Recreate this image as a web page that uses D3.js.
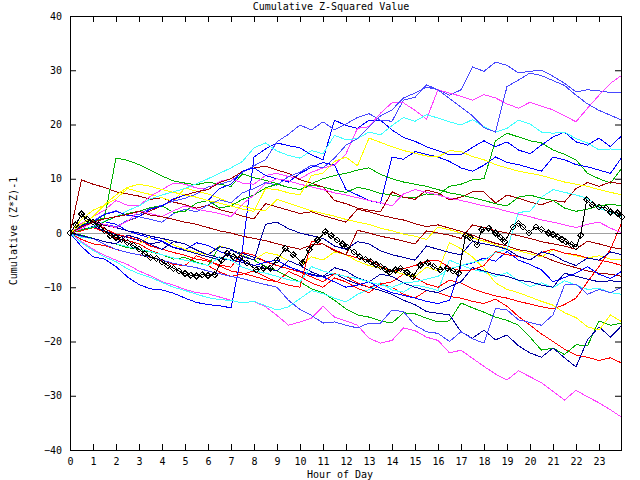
<!DOCTYPE html>
<html><head><meta charset="utf-8">
<script src="https://cdn.jsdelivr.net/npm/d3@7"></script>
<style>
body{margin:0;background:#fff}
text{font-family:"DejaVu Sans Mono",monospace;font-size:10px;fill:#000}
</style>
</head><body>
<svg id="c" width="640" height="480"></svg>
<script>
// ---- data ----
const halfHours = [0,0.5,1,1.5,2,2.5,3,3.5,4,4.5,5,5.5,6,6.5,7,7.5,8,8.5,9,9.5,10,10.5,11,11.5,12,12.5,13,13.5,14,14.5,15,15.5,16,16.5,17,17.5,18,18.5,19,19.5,20,20.5,21,21.5,22,22.5,23,23.5,24];
const xTickLabels = [0,1,2,3,4,5,6,7,8,9,10,11,12,13,14,15,16,17,18,19,20,21,22,23];
const yTickLabels = [-40,-30,-20,-10,0,10,20,30,40];

const red_a = [0, -1.2,-2, -2.3,-3, -3.6,-4, -4.5,-5, -5.8,-6, -4.2,-5, -6.1,-7, -7.4,-8, -8.6,-9, -7.1,-8, -9.2,-10, -8.3,-9, -10.2,-11, -9.4,-10, -11.3,-12, -10.6,-11, -11.7,-12, -12.6,-13, -12.2,-13.5, -15.4,-17, -18.6,-20, -21.4,-22.5, -22.9,-23.5, -23,-24];
const green_a = [0, -0.4,-1, -1.6,-2, -2.7,-3, -3.5,-4, -4.8,-4.5, -5.4,-6, -2.5,-3, -4.1,-5, -6.2,-7, -8.1,-9, -10.3,-11, -12.4,-14, -15.1,-15.5, -16.2,-16.6, -14.7,-14.9, -15.7,-16.4, -16.2,-12.9, -13.8,-14.6, -15.5,-16.1, -17,-19.2, -21.6,-21.2, -22.4,-20.6, -20.8,-16.2, -17,-16.6];
const blue_a = [0, -2.5,-4.4, -4.8,-6.2, -8.1,-9.5, -10.3,-10.5, -11.1,-12, -12.8,-13.2, -13.4,-13.8, -3,14, 15.5,16.6, 16.1,15.7, 14.4,13.5, 20.8,19.8, 19.3,20.8, 20.8,19, 17.6,16.9, 15.9,15.2, 14.4,14.4, 15.8,17, 15.9,16.8, 15.3,14.6, 16.2,17.7, 18.6,16.8, 16.2,17.5, 15.9,18];
const magenta_a = [0, -1.6,-3, -4.1,-5, -5.8,-7, -7.9,-9, -9.6,-10.4, -11,-11.2, -11.8,-12.4, -12.9,-12.6, -13.6,-15.2, -17,-16.4, -15.7,-13.5, -15.5,-16.2, -17,-19.4, -20.3,-19.8, -17.5,-18, -19.2,-19.8, -22.1,-21.6, -23.1,-24.6, -26,-27.1, -25.4,-26.5, -27.6,-29.2, -30.8,-29, -30.2,-31.3, -32.6,-34];
const cyan_a = [0, -1.8,-3.2, -4.4,-5.3, -6.6,-7.5, -8.2,-9.1, -10,-10.6, -11.3,-11.9, -12.3,-12.4, -12.9,-12.6, -13.4,-14.2, -13.6,-12.1, -10.6,-11.2, -12,-12.7, -11.3,-10.4, -9.2,-10.5, -10.9,-9.6, -10,-10.6, -5,-5.9, -6.7,-7.2, -8,-7.3, -8.8,-9.9, -9.2,-10.1, -8.8,-9.6, -10.4,-10.2, -11,-11.3];
const darkred_a = [0, 9.8,9, 8.4,7.6, 7.2,6.8, 6.2,6.5, 5.7,5.2, 4.6,5.1, 4.3,3.8, 3.1,2.6, 5.4,4.8, 4.2,3.6, 3.9,3.2, 2.6,2, 4.4,3.9, 3.3,2.8, 2.4,1.7, 1.2,1.5, 0.9,0.3, -0.4,-1.2, -1.9,-2.4, -3.1,-3.4, -4.2,-5.1, -5.8,-6.4, -7,-7.4, -7.6,-8];
const yellow_a = [0, 2.5,4.2, 5.1,6.3, 8.2,7.6, 7.1,6.5, 5.8,8.3, 7.7,7.2, 6.4,5.5, 5,4.4, 4.1,6.2, 5.5,4.8, 4.1,3.6, 3.1,2.5, 2,1.6, 0.9,0.4, -0.2,-0.6, -1.2,1.1, 0.6,0, -0.9,-1.5, -2.2,-2.9, -3.3,-3.8, -4.4,-3.1, -3.7,-4.2, -4.6,-4.2, -4.8,-5];
const slateblue_a = [0, 1.4,2.2, 3.5,4.1, 3.2,3.4, 4.6,5.1, 5.9,6.4, 7.2,8.5, 9,9.6, 11.2,12.4, 13.5,16.8, 18.2,19.9, 19,20.5, 19,20.1, 21.3,22, 20.8,20.6, 24.5,25, 27.3,26.4, 25.4,26.4, 30.6,29.8, 31.5,30.9, 29.5,29.8, 30,28.9, 27.6,26, 26.4,26.2, 25.9,25.8];
const navy_a = [0, 0.6,1.2, 0.4,-0.3, -0.8,-1.4, -2,-1.6, -2.7,-3.2, -3.8,-4.4, -4.9,-3.2, -3.8,-4.5, -5.2,-6, -6.6,-7.1, -7.6,-8.1, -7.4,-8.6, -9.4,-10, -10.6,-11.3, -12.4,-13.2, -14.5,-14.8, -15.1,-18.2, -19.4,-17.9, -19.7,-18.8, -20.8,-22.1, -22.9,-21.2, -23,-24.7, -19.7,-17.3, -19.2,-17];

const red_b = [0, 1.2,2.3, 0.8,-0.2, -0.7,-1.3, -2.4,-3, -3.6,-4.1, -4.8,-5.2, -5.9,-6.3, -3.6,-4.1, -5.3,-6, -6.6,-7.2, -8.1,-9, -7.5,-8, -9.2,-10, -9.4,-9, -7.6,-8.2, -9.4,-10, -8.7,-9.2, -10.3,-11, -11.6,-12, -12.6,-13.1, -13.6,-14, -13.2,-12, -9,-6.2, -3,2];
const green_b = [0, 1.5,2.2, 2.8,13.8, 13.4,12.6, 11.6,10.5, 9.6,9.2, 8.9,9.4, 9,8.6, 10.9,10.2, 9.7,9.1, 8.4,8, 8.8,8.5, 7.9,7.5, 8.4,8, 7.3,7, 6.6,6.5, 7.2,7, 8.6,9, 9.8,10, 17,18.4, 17.7,17, 16.6,15.3, 14.5,13.5, 11,10, 9.2,12];
const blue_b = [0, 0.5,1.2, 2.1,1.6, 0.4,-0.3, -0.9,-1.5, -2.6,-3.1, -1.8,-2.3, -3.4,-4.2, -5.1,-6, -5.4,-5, -6.2,-7, -7.8,-8.1, -9,-10, -9.6,-9, -10.2,-11, -11.5,-12, -12.6,-13, -12.4,-6, -5.5,-4.6, -5.2,-3.4, -5,-5.8, -6.8,-9, -8.2,-7.4, -6.2,-7.6, -8.4,-7];
const magenta_b = [0, 1.8,3, 4.2,6, 5.1,5, 6.8,8, 9.2,9, 8.3,8, 9.5,10, 9.2,9, 10.6,11, 10.4,10, 11.2,12, 12.5,14.6, 19.3,19.6, 22.1,24, 24,22.6, 21,26.4, 25.8,25.2, 24.5,25.5, 24.9,23.8, 23,24.1, 23.4,22.7, 21.6,20.5, 23,25.4, 27.6,29.1];
const cyan_b = [0, 0.6,1.1, 2.2,3, 4.1,5, 6.3,7, 7.6,8.2, 9.1,10, 11,12, 13.2,15.7, 16.6,15.1, 14.3,13.8, 15.2,14.6, 18,17.2, 17.4,18.6, 18.1,19.8, 21.3,20.6, 21.8,21.2, 20.5,19.9, 20.9,19.6, 18.6,19.3, 20.8,20.1, 18.6,18.4, 18.6,17.4, 16.6,15.3, 15.5,15.3];
const darkred_b = [0, 1.2,2, 1.4,1, 2.2,3, 4.1,5, 6.2,7, 7.6,8, 9.3,10, 11.4,12, 12.3,11.6, 11,9.8, 9.2,8.5, 6,5.4, 4.6,4.2, 3.9,7.6, 6.6,6.2, 7.9,7.4, 6.1,6.6, 7.6,7.6, 5.5,7, 6.4,5.7, 5.2,6, 5.7,8.2, 9.3,8.6, 9.4,9];
const yellow_b = [0, 0.6,1, 0.2,-1, -1.4,-2, -0.6,-1, -2.2,-3, -3.6,-4, -2.4,-3, -4.2,-5, -3.6,-4, -5.1,-6, -4.4,-5, -3.5,-4, -5.2,-6, -6.4,-7, -7.6,-8, -6.3,-7, -1.8,-2.9, -4.4,-6.5, -9.2,-10.4, -11,-11.8, -12.6,-13.3, -14.7,-15.6, -17.3,-17.9, -15.1,-16.4];
const slateblue_b = [0, 0.4,1, 1.6,1.2, 2.3,3, 2.5,2, 3.6,4.4, 3.9,5.2, 6.1,5.6, 7.4,8.2, 9.3,8.8, 10.4,11.2, 12.5,12, 13.8,16.2, 17.4,19.5, 21.6,22.7, 24.9,25.8, 26.9,26.4, 24.8,23.2, 21.6,19.4, 18.6,27, 28.2,29.5, 29,28.1, 27.2,25.4, 23.8,22.6, 21.7,20.8];
const navy_b = [0, 1.4,2, 1.5,1, 0.4,0, -0.6,-1, -1.5,-2, -3.1,-4, -4.6,-5, -5.4,-6, -6.5,-7, -5.1,-6, -7.2,-8, -6.4,-7, -8.3,-9, -7.6,-8, -9.2,-10, -10.6,-11, -9.9,-9, -6.4,-7, -7.6,-8, -8.7,-9, -9.6,-10, -7.4,-8, -8.5,-9, -8.8,-9];

const red_c = [0, 0.4,1, 0.2,-1, -1.4,-2, -3.2,-4, -4.6,-5, -5.5,-6, -7.2,-8, -7.6,-7, -8.1,-9, -9.6,-10, -1.5,-2, -3.1,-4, -4.6,-5, -6.2,-7, -6.6,-6, -5.2,-5, -6.4,-7, -6.8,-6, -3.4,-4, -4.3,-5, -3.6,-3, -3.7,-4, -4.6,-5, -5.4,-6];
const green_c = [0, 0.6,1, 2.1,3, 3.6,4, 4.7,5, 3.8,4, 5.5,6, 4.6,5, 6.2,7, 8.3,9, 8.4,8, 9.1,10, 10.6,11, 11.6,12, 10.8,10, 9.4,9, 8.6,8, 7.4,7, 6.5,6, 5.4,5, 6.6,7, 6.4,6, 4.6,4, 4.4,5, 5.3,5];
const blue_c = [0, 1.2,2, 3.4,4, 3.3,3, 4.4,5, 6.3,7, 6.6,6, 8.2,9, 11.4,12, 10.6,10, 9.4,11, 12.1,13, 12.5,8, 7,6, 5.5,14, 13.6,15, 14.5,14, 13.2,12, 11.4,12.5, 14,13, 12.6,12, 11.4,14, 13.5,12.6, 12.2,11.6, 11,14];
const magenta_c = [0, 0.8,2, 1.6,1, 2.2,4, 3.6,3, 4.1,5, 4.4,4, 3.6,3, 5.3,7, 9.1,10, 9.6,9, 8.5,8, 7.4,7, 6.5,6, 5.6,5, 7.2,8, 7.5,7, 6.4,6, 5.5,5, 4.6,4, 3.5,3, 2.4,2, 1.5,1, 1.6,2, 0.9,0];
const cyan_c = [0, -0.8,-1, -1.6,-2, -2.5,-3, -3.4,-4, -4.6,-5, -5.5,-6, -4.4,-5, -6.3,-7, -7.4,-8, -8.6,-9, -6.2,-7, -7.6,-8, -8.4,-9, -9.6,-10, -9.2,-9, -8.5,-8, -6.6,-6, -5.4,-5, -3.6,-3, 3.8,4, 6.6,8, 7.5,7, 6.4,4.6, 3.8,3];
const darkred_c = [0, 1.1,2, 2.6,3, 3.4,4, 3.3,3, 2.5,2, 1.6,1, 0.4,0, -0.6,-1, -1.4,-2, -2.5,-3, -2.2,-2, -3.3,-4, 0.5,0, -0.6,-1, -1.5,-2, 0.4,0, -0.4,-1, 1.5,1, 0.4,0, -0.5,-1, -1.6,-2, -2.4,-3, -1.5,-2, -2.6,-3];
const yellow_c = [0, 1.6,3, 5.2,7, 8.4,9, 8.6,8, 7.5,7, 6.6,6, 5.5,5, 4.4,4, 8.2,8, 7.4,7, 10.6,11, 13.2,14, 12.4,17.5, 16.7,15.9, 15.2,14.7, 14.2,14, 15.2,15, 14.1,13.5, 12.6,12, 11.4,11, 10.6,10, 9.4,9, 8.6,8, 7.5,7];
const slateblue_c = [0, -0.6,-1, -2.1,-3, -3.6,-4, -4.4,-5, -5.6,-6, -6.4,-7, -7.5,-8, -8.4,-9, -9.5,-10, -12.4,-14.1, -15.2,-16.6, -16.4,-17, -17.5,-16.6, -16.6,-14.2, -14.5,-17, -18.2,-18.5, -20,-18.2, -19.5,-20.3, -13.9,-14.2, -16,-16.5, -17,-15.1, -9.6,-9.4, -11.3,-10.4, -11,-10];
const navy_c = [0, -0.5,-1, -1.6,-2, -0.4,-1, -2.1,-3, -1.6,-2, -3.2,-4, -2.5,-3, -4.3,-5, 1.6,2, 0.8,0, -0.5,-1, -2.4,-3, -1.6,-2, -3.3,-4, -4.5,-5, -2.4,-3, -3.6,-4, -1.5,-2, -2.4,-3, -4.3,-5, -3.5,-4, -5.2,-6, -4.6,-5, -3.5,-4];

const blackHours = [0,0.25,0.5,0.75,1,1.25,1.5,1.75,2,2.25,2.5,2.75,3,3.25,3.5,3.75,4,4.25,4.5,4.75,5,5.25,5.5,5.75,6,6.3,6.6,6.84,7.1,7.4,7.7,8.1,8.4,8.7,9.0,9.36,9.7,10.1,10.4,10.76,11.1,11.35,11.6,11.85,12.06,12.35,12.6,12.85,13.07,13.3,13.5,13.7,13.9,14.15,14.37,14.65,14.9,15.24,15.55,15.8,16.1,16.4,16.65,16.9,17.2,17.4,17.7,17.9,18.2,18.5,18.7,18.9,19.25,19.5,19.7,19.95,20.25,20.5,20.8,21.0,21.2,21.4,21.56,21.8,22.0,22.2,22.47,22.7,23.0,23.3,23.5,23.8,24.0];
const blackValues = [0,1.5,3.5,2.5,2,1.5,0.5,-0.5,-0.8,-1.2,-1.8,-2.3,-3,-3.8,-4.5,-4.7,-5.3,-6,-6.5,-7,-7.5,-7.8,-7.9,-7.7,-7.8,-7.7,-5,-3.7,-4.4,-4.6,-5.5,-6.8,-6.5,-6.5,-5,-2.8,-4,-5.5,-3.1,-1.3,0.2,-0.5,-1.3,-2,-2.6,-3.5,-4.4,-4.9,-5.3,-5.8,-6.2,-6.7,-7.2,-6.8,-6.5,-7.3,-8.1,-5.9,-5.5,-6.2,-6.8,-6.5,-7,-7.4,-0.4,-0.9,-2.2,0.6,0.9,0,-0.8,-1.6,1.1,1.8,1.1,0,1.1,0.6,0,-0.3,-0.7,-1.2,-1.6,-2.1,-2.6,-0.4,6.1,5.2,4.8,4.6,3.9,3.7,3.0];

const seriesColors = {
  red:"#ff0000", green:"#00b000", blue:"#0000ff", magenta:"#ff40ff", cyan:"#40ffff",
  darkred:"#a00000", yellow:"#ffff00", slateblue:"#4848ff", navy:"#0000a0"
};
const series = [
  ["red",red_a],["green",green_a],["blue",blue_a],["magenta",magenta_a],["cyan",cyan_a],
  ["darkred",darkred_a],["yellow",yellow_a],["slateblue",slateblue_a],["navy",navy_a],
  ["red",red_b],["green",green_b],["blue",blue_b],["magenta",magenta_b],["cyan",cyan_b],
  ["darkred",darkred_b],["yellow",yellow_b],["slateblue",slateblue_b],["navy",navy_b],
  ["red",red_c],["green",green_c],["blue",blue_c],["magenta",magenta_c],["cyan",cyan_c],
  ["darkred",darkred_c],["yellow",yellow_c],["slateblue",slateblue_c],["navy",navy_c]
];

// ---- chart ----
const svg = d3.select("#c");
const L = 70, R = 622, T = 16, B = 450;
const x = d3.scaleLinear().domain([0,24]).range([L,R]);
const y = d3.scaleLinear().domain([-40,40]).range([B,T]);

// zero axis
svg.append("line").attr("x1",L).attr("x2",R).attr("y1",Math.round(y(0))+0.5).attr("y2",Math.round(y(0))+0.5)
  .attr("stroke","#a0a0a0").attr("stroke-width",1).attr("shape-rendering","crispEdges");

const line = d3.line().x(d=>x(d[0])).y(d=>y(d[1]));
const g = svg.append("g");
series.forEach(([c,vals])=>{
  g.append("path").attr("d", line(vals.map((v,i)=>[halfHours[i],v]).filter(d=>d[0]!==undefined)))
    .attr("fill","none").attr("stroke",seriesColors[c]).attr("stroke-width",1)
    .attr("shape-rendering","crispEdges");
});
const blk = blackValues.map((v,i)=>[blackHours[i],v]);
g.append("path").attr("d",line(blk)).attr("fill","none").attr("stroke","#000").attr("stroke-width",1)
  .attr("shape-rendering","crispEdges");
g.selectAll(".mk").data(blk).enter().append("path")
  .attr("d",d=>{const px=x(d[0]),py=y(d[1]),s=3;return `M${px},${py-s}L${px+s},${py}L${px},${py+s}L${px-s},${py}Z`;})
  .attr("fill","none").attr("stroke","#000").attr("stroke-width",1).attr("shape-rendering","crispEdges");

// border
svg.append("rect").attr("x",L+0.5).attr("y",T+0.5).attr("width",R-L-1).attr("height",B-T)
  .attr("fill","none").attr("stroke","#000").attr("shape-rendering","crispEdges");

// axes
const ax = (sel)=>{sel.select(".domain").remove(); sel.selectAll("line").attr("stroke","#000");};
svg.append("g").attr("transform",`translate(0,${B})`)
  .call(d3.axisBottom(x).tickValues(xTickLabels).tickSize(-6).tickPadding(8).tickFormat(d3.format("d")))
  .call(ax).selectAll("text").attr("font-family","DejaVu Sans Mono").attr("font-size",10);
svg.append("g").attr("transform",`translate(0,${T})`)
  .call(d3.axisTop(x).tickValues(xTickLabels).tickSize(-6).tickFormat(""))
  .call(ax);
svg.append("g").attr("transform",`translate(${L},0)`)
  .call(d3.axisLeft(y).tickValues(yTickLabels).tickSize(-6).tickPadding(8).tickFormat(d3.format("d")))
  .call(ax).selectAll("text").attr("font-family","DejaVu Sans Mono").attr("font-size",10);
svg.append("g").attr("transform",`translate(${R-1},0)`)
  .call(d3.axisRight(y).tickValues(yTickLabels).tickSize(-6).tickFormat(""))
  .call(ax);

// texts
svg.append("text").attr("x",331).attr("y",10).attr("text-anchor","middle").text("Cumulative Z-Squared Value");
svg.append("text").attr("x",340).attr("y",478).attr("text-anchor","middle").text("Hour of Day");
svg.append("text").attr("transform","translate(17,231) rotate(-90)").attr("text-anchor","middle").text("Cumulative (Z*Z)-1");
</script>
</body></html>
